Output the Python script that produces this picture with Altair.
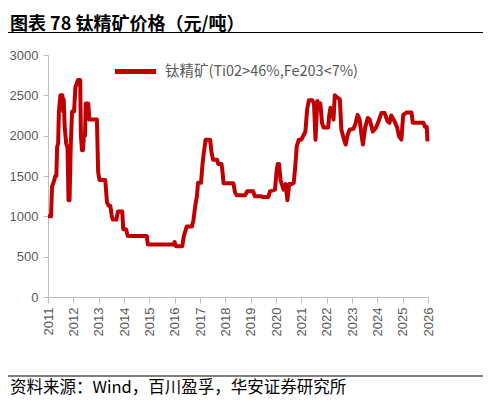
import altair as alt
import pandas as pd

# Decimal-year positions and prices (元/吨)
years = [
    2011.00, 2011.12, 2011.16, 2011.22, 2011.29, 2011.33, 2011.36, 2011.40, 2011.43, 2011.49,
    2011.57, 2011.60, 2011.62, 2011.66, 2011.72, 2011.77, 2011.81, 2011.85, 2011.90, 2011.95,
    2012.03, 2012.08, 2012.12, 2012.18, 2012.27, 2012.30, 2012.34, 2012.38, 2012.42, 2012.46,
    2012.49, 2012.59, 2012.63, 2012.93, 2012.98, 2013.03, 2013.26, 2013.33, 2013.40, 2013.46,
    2013.52, 2013.56, 2013.60, 2013.70, 2013.76, 2013.93, 2013.97, 2014.08, 2014.15, 2014.90,
    2014.94, 2015.96, 2016.00, 2016.06, 2016.30, 2016.36, 2016.48, 2016.68, 2016.74, 2016.82,
    2016.88, 2016.92, 2017.04, 2017.10, 2017.15, 2017.22, 2017.40, 2017.45, 2017.52, 2017.68,
    2017.72, 2017.85, 2017.89, 2017.93, 2018.32, 2018.38, 2018.45, 2018.78, 2018.86, 2019.10,
    2019.16, 2019.42, 2019.47, 2019.70, 2019.76, 2019.96, 2020.02, 2020.07, 2020.12, 2020.18,
    2020.30, 2020.38, 2020.45, 2020.52, 2020.62, 2020.70, 2020.76, 2020.82, 2020.90, 2021.00,
    2021.08, 2021.16, 2021.23, 2021.30, 2021.43, 2021.50, 2021.56, 2021.63, 2021.69, 2021.75,
    2021.82, 2021.88, 2022.06, 2022.10, 2022.15, 2022.21, 2022.27, 2022.32, 2022.40, 2022.52,
    2022.58, 2022.66, 2022.75, 2022.82, 2022.90, 2023.06, 2023.14, 2023.22, 2023.30, 2023.38,
    2023.43, 2023.52, 2023.62, 2023.70, 2023.82, 2023.95, 2024.05, 2024.16, 2024.29, 2024.40,
    2024.48, 2024.55, 2024.68, 2024.78, 2024.86, 2024.95, 2025.02, 2025.15, 2025.35, 2025.40,
    2025.82, 2025.88, 2025.95, 2025.98,
]
prices = [
    1000, 1000, 1370, 1420, 1500, 1500, 1860, 1900, 2300, 2500,
    2500, 2300, 2450, 2100, 1900, 1850, 1200, 1200, 1900, 2300,
    2300, 2600, 2630, 2690, 2690, 2000, 1820, 1820, 2000, 2000,
    2400, 2400, 2200, 2200, 1550, 1450, 1450, 1170, 1130, 1130,
    1000, 960, 960, 960, 1060, 1060, 840, 840, 755, 755,
    650, 650, 680, 630, 630, 755, 875, 875, 950, 1145,
    1250, 1415, 1415, 1650, 1785, 1950, 1950, 1800, 1700, 1700,
    1650, 1650, 1550, 1410, 1410, 1300, 1260, 1260, 1310, 1310,
    1250, 1250, 1240, 1240, 1310, 1330, 1550, 1650, 1650, 1450,
    1330, 1400, 1200, 1400, 1400, 1415, 1620, 1870, 1950, 1950,
    2000, 2050, 2330, 2440, 2440, 2400, 1950, 2430, 2380, 2400,
    2150, 2100, 2100, 2250, 2345, 2300, 2200, 2500, 2480, 2450,
    2073, 1980, 1890, 2000, 2073, 2085, 2150, 2258, 2200, 2000,
    1890, 2100, 2220, 2200, 2052, 2100, 2180, 2280, 2280, 2180,
    2160, 2250, 2180, 2100, 1990, 1950, 2258, 2287, 2287, 2160,
    2160, 2110, 2110, 1930,
]
series_name = "钛精矿(Ti02>46%,Fe203<7%)"
tick_years = list(range(2011, 2027))
y_ticks = [0, 500, 1000, 1500, 2000, 2500, 3000]

title_text = "图表 78 钛精矿价格（元/吨）"
source_text = "资料来源：Wind，百川盈孚，华安证券研究所"

df = pd.DataFrame({"year": years, "price": prices, "series": series_name})

W, H = 380, 242
CJK = "Noto Sans CJK SC"
AX = "Liberation Sans"

line = alt.Chart(df).mark_line(strokeWidth=4, strokeJoin="round").encode(
    x=alt.X("year:Q",
            scale=alt.Scale(domain=[2011, 2026], nice=False, zero=False),
            axis=alt.Axis(values=tick_years, format="d", labelAngle=270,
                          title=None, grid=False, labelFont=AX, labelFontSize=13,
                          labelColor="#595959", domainColor="#BFBFBF",
                          tickColor="#BFBFBF", tickSize=6, labelPadding=4,
                          labelFlush=False, labelOverlap=False)),
    y=alt.Y("price:Q",
            scale=alt.Scale(domain=[0, 3000], nice=False),
            axis=alt.Axis(values=y_ticks, format="d", title=None, grid=False,
                          labelFont=AX, labelFontSize=13, labelColor="#595959",
                          domainColor="#BFBFBF", tickColor="#BFBFBF",
                          tickSize=5, labelPadding=5)),
    color=alt.Color("series:N",
                    scale=alt.Scale(range=["#C00000"]),
                    legend=alt.Legend(title=None, orient="none", legendX=64,
                                      legendY=-7, symbolType="stroke",
                                      symbolSize=1700, symbolStrokeWidth=5,
                                      labelFont=CJK, labelFontSize=14.5,
                                      labelColor="#595959", labelLimit=0,
                                      labelOffset=6)),
)

title = alt.Chart(pd.DataFrame({"t": [title_text]})).mark_text(
    align="left", baseline="alphabetic", font=CJK, fontSize=18,
    fontWeight="bold", color="#000000"
).encode(x=alt.value(-38), y=alt.value(-25.5), text="t:N")

top_rule = alt.Chart(pd.DataFrame({"a": [0]})).mark_rule(
    color="#000000", strokeWidth=1.2
).encode(x=alt.value(-40), x2=alt.value(437), y=alt.value(-22.5))

bottom_rule = alt.Chart(pd.DataFrame({"a": [0]})).mark_rule(
    color="#000000", strokeWidth=1.2
).encode(x=alt.value(-40), x2=alt.value(437), y=alt.value(321))

source = alt.Chart(pd.DataFrame({"t": [source_text]})).mark_text(
    align="left", baseline="alphabetic", font=CJK, fontSize=16.5,
    color="#000000"
).encode(x=alt.value(-38), y=alt.value(338), text="t:N")

chart = alt.layer(line, title, top_rule, bottom_rule, source).properties(
    width=W, height=H,
    autosize=alt.AutoSizeParams(type="none"),
    padding={"left": 40, "top": 47, "right": 55, "bottom": 101},
    background="white",
).configure_view(stroke=None)

chart.save("out.html", embed_options={"renderer": "svg", "actions": False})
